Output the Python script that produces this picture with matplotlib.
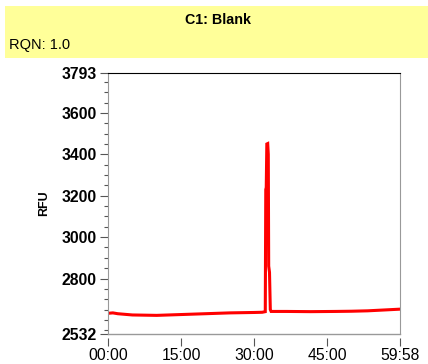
import matplotlib
matplotlib.use("Agg")
import matplotlib.pyplot as plt
from matplotlib.patches import Rectangle
from matplotlib.ticker import FixedLocator

plt.rcParams['font.family'] = ['Liberation Sans', 'DejaVu Sans']

title = "C1: Blank"
rqn_text = "RQN: 1.0"
y_label = "RFU"

time_s = [0, 60, 120, 300, 600, 900, 1200, 1500, 1800, 1900, 1938,
          1944, 1950, 1957, 1968, 1975, 1980, 1990, 2000, 2010,
          2200, 2500, 2800, 3000, 3200, 3400, 3598]
rfu = [2632, 2634, 2630, 2624, 2622, 2626, 2630, 2634, 2636, 2637, 2640,
       3230, 3240, 3450, 3452, 3400, 2860, 2830, 2650, 2641,
       2641, 2640, 2641, 2642, 2644, 2648, 2652]

y_ticks = [2532, 2800, 3000, 3200, 3400, 3600, 3793]
x_ticks = [0, 900, 1800, 2700, 3598]
x_tick_labels = ["00:00", "15:00", "30:00", "45:00", "59:58"]

W, H = 428, 364
fig = plt.figure(figsize=(W / 100, H / 100), dpi=100)
fig.patch.set_facecolor('white')

# Yellow banner
fig.patches.append(Rectangle((5 / W, 1 - 58 / H), (W - 5) / W, 52 / H,
                             transform=fig.transFigure, facecolor='#FFFF99',
                             edgecolor='none', zorder=0))
fig.text(218 / W, 1 - 20 / H, title, ha='center', va='center',
         fontsize=10.3, fontweight='bold', color='black')
fig.text(9 / W, 1 - 45 / H, rqn_text, ha='left', va='center',
         fontsize=10.5, color='black')

ax = fig.add_axes([108 / W, 1 - 334 / H, (400 - 108) / W, (334 - 73) / H])
ax.plot(time_s, rfu, color='#FF0000', linewidth=2.2, solid_joinstyle='miter')
ax.set_xlim(0, 3598)
ax.set_ylim(2532, 3793)

ax.yaxis.set_major_locator(FixedLocator(y_ticks))
ax.yaxis.set_minor_locator(FixedLocator(
    [v for v in range(2550, 3793, 50) if v not in y_ticks]))
ax.set_xticks(x_ticks)
ax.set_xticklabels(x_tick_labels)

for lbl in ax.get_yticklabels() + ax.get_xticklabels():
    lbl.set_fontweight('bold')
ax.tick_params(axis='y', which='major', length=6, width=0.8, labelsize=11.3,
               color='#555555', pad=2)
ax.tick_params(axis='y', which='minor', length=3, width=0.8, color='#555555')
ax.tick_params(axis='x', which='major', length=6, width=0.8, labelsize=11.3,
               color='#555555', pad=1)
ax.spines['bottom'].set_position(('outward', 3))
ax.spines['bottom'].set_visible(False)
for s in ['left', 'right']:
    ax.spines[s].set_color('#999999')
ax.spines['top'].set_color('black')
ax.plot([0, 1], [0, 0], transform=ax.transAxes, color='#999999',
        linewidth=1.0, clip_on=False)

ax.set_ylabel(y_label, fontsize=9, fontweight='bold', labelpad=8)

fig.savefig("out.png", dpi=100)
